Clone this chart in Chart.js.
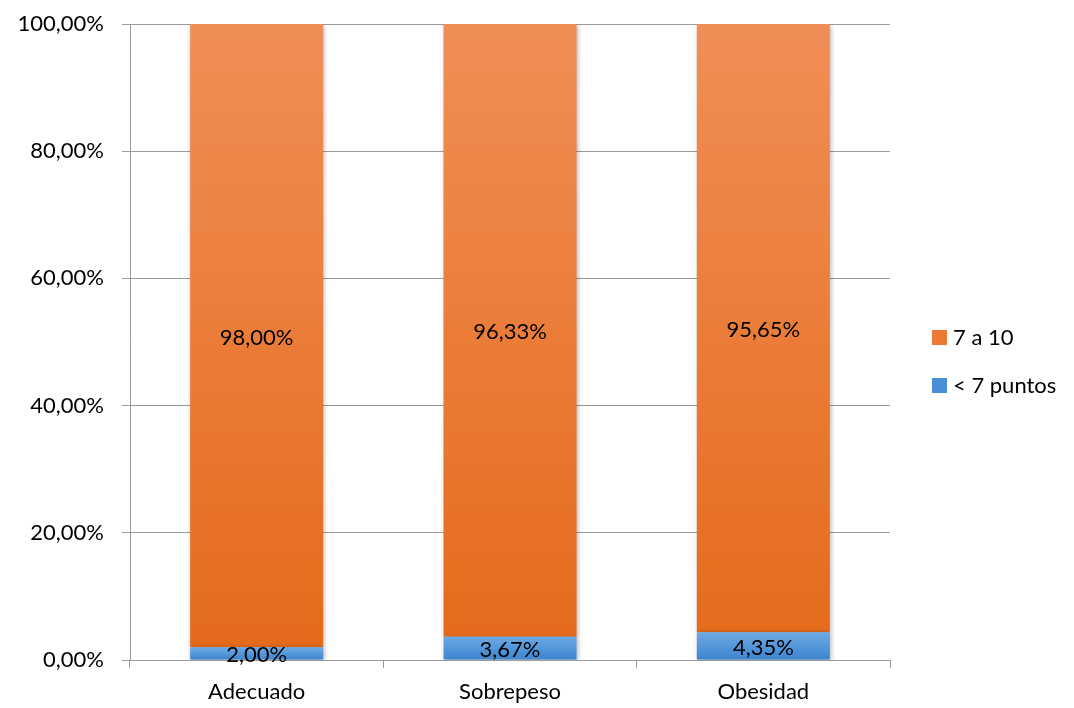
<!DOCTYPE html>
<html>
<head>
<meta charset="utf-8">
<script src="https://cdn.jsdelivr.net/npm/chart.js@4"></script>
<style>
  html, body { margin: 0; padding: 0; background: #fff; }
  #wrap { width: 1074px; height: 708px; }
</style>
</head>
<body>
<div id="wrap"><canvas id="grafico"></canvas></div>
<script>
// datos del gráfico
const categorias = ["Adecuado", "Sobrepeso", "Obesidad"];
const menos7 = [2.00, 3.67, 4.35];
const de7a10 = [98.00, 96.33, 95.65];
const ticksY = [0, 20, 40, 60, 80, 100];

const fuente = "Lato, 'Open Sans', sans-serif";

function formato(v) {
  return v.toFixed(2).replace(".", ",") + "%";
}

// degradado vertical: naranja sobre toda el área, azul sobre su propio segmento
function degradadoArea(claro, oscuro) {
  return (ctx) => {
    const area = ctx.chart.chartArea;
    if (!area) return oscuro;
    const g = ctx.chart.ctx.createLinearGradient(0, area.top, 0, area.bottom);
    g.addColorStop(0, claro);
    g.addColorStop(1, oscuro);
    return g;
  };
}
function degradadoBarra(claro, oscuro) {
  return (ctx) => {
    const y = ctx.chart.scales.y;
    if (!ctx.chart.chartArea || !y || ctx.raw == null) return oscuro;
    const arriba = y.getPixelForValue(ctx.raw);
    const abajo = y.getPixelForValue(0);
    const g = ctx.chart.ctx.createLinearGradient(0, arriba, 0, abajo);
    g.addColorStop(0, claro);
    g.addColorStop(1, oscuro);
    return g;
  };
}

// etiquetas dentro de las barras
const etiquetas = {
  id: "etiquetas",
  afterDatasetsDraw(chart) {
    const ctx = chart.ctx;
    ctx.save();
    ctx.font = "22px " + fuente;
    ctx.fillStyle = "#000";
    ctx.textAlign = "center";
    ctx.textBaseline = "middle";
    chart.data.datasets.forEach((ds, i) => {
      chart.getDatasetMeta(i).data.forEach((bar, j) => {
        const p = bar.getProps(["x", "y", "base"], true);
        ctx.fillText(formato(ds.data[j]), p.x, (p.y + p.base) / 2 + 2);
      });
    });
    ctx.restore();
  }
};

// sombra suave de las barras
const sombra = {
  id: "sombra",
  beforeDatasetsDraw(chart) {
    const ctx = chart.ctx;
    ctx.save();
    ctx.shadowColor = "rgba(0,0,0,0.35)";
    ctx.shadowBlur = 5;
    ctx.shadowOffsetX = 1;
    ctx.shadowOffsetY = 1;
  },
  afterDatasetsDraw(chart) {
    chart.ctx.restore();
  }
};

// leyenda a la derecha, en el orden del original
const leyenda = {
  id: "leyenda",
  afterDraw(chart) {
    const ctx = chart.ctx;
    const items = [
      { texto: chart.data.datasets[1].label, color: "#ec7a36" },
      { texto: chart.data.datasets[0].label, color: "#4a8fd5" }
    ];
    const x = chart.chartArea.right + 42;
    const y0 = chart.height / 2 - 17;
    ctx.save();
    ctx.font = "22px " + fuente;
    ctx.fillStyle = "#000";
    ctx.textBaseline = "middle";
    items.forEach((it, i) => {
      const y = y0 + i * 48;
      ctx.fillStyle = it.color;
      ctx.fillRect(x, y - 7, 15, 15);
      ctx.fillStyle = "#000";
      ctx.fillText(it.texto, x + 21, y + 1);
    });
    ctx.restore();
  }
};

new Chart(document.getElementById("grafico"), {
  type: "bar",
  data: {
    labels: categorias,
    datasets: [
      {
        label: "< 7 puntos",
        data: menos7,
        backgroundColor: degradadoBarra("#6eaae3", "#3b84cf"),
        categoryPercentage: 1,
        barPercentage: 0.525
      },
      {
        label: "7 a 10",
        data: de7a10,
        backgroundColor: degradadoArea("#f18e57", "#e46a19"),
        categoryPercentage: 1,
        barPercentage: 0.525
      }
    ]
  },
  options: {
    responsive: true,
    maintainAspectRatio: false,
    animation: false,
    layout: { padding: { top: 24, right: 184, bottom: 0, left: 0 } },
    plugins: {
      tooltip: { enabled: false },
      legend: { display: false }
    },
    scales: {
      x: {
        stacked: true,
        grid: {
          offset: true,
          drawOnChartArea: false,
          color: "#9a9a9a",
          tickLength: 8
        },
        border: { color: "#9a9a9a" },
        ticks: { color: "#000", font: { family: fuente, size: 22 }, padding: 11 },
        afterFit(scale) {
          scale.height = 48;
          scale.paddingLeft = 0;
          scale.paddingRight = 0;
        }
      },
      y: {
        stacked: true,
        min: 0,
        max: 100,
        afterBuildTicks(scale) {
          scale.ticks = ticksY.map((v) => ({ value: v }));
        },
        afterFit(scale) {
          scale.width = 130;
          scale.paddingTop = 0;
          scale.paddingBottom = 0;
        },
        grid: { color: "#9a9a9a", tickLength: 8 },
        border: { color: "#9a9a9a" },
        ticks: {
          color: "#000",
          font: { family: fuente, size: 22 },
          padding: 18,
          callback: (v) => formato(v)
        }
      }
    }
  },
  plugins: [sombra, etiquetas, leyenda]
});
</script>
</body>
</html>
